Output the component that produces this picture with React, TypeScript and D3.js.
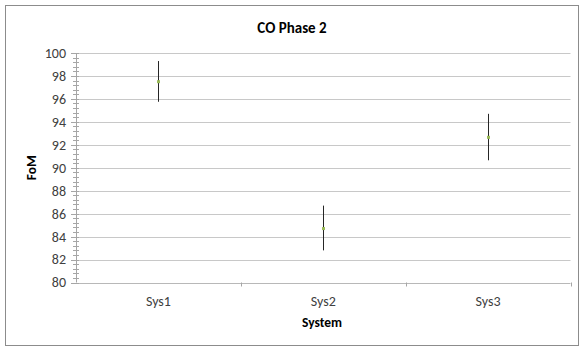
import React from 'react'
import * as d3 from 'd3'

const systems = ['Sys1', 'Sys2', 'Sys3']
const fom = [97.5, 84.7, 92.65]
const errLow = [95.75, 82.8, 90.65]
const errHigh = [99.3, 86.7, 94.7]
const yTicks = [80, 82, 84, 86, 88, 90, 92, 94, 96, 98, 100]

const W = 579
const H = 349
const margin = { top: 53, right: 8, bottom: 66, left: 76 }
const font = "Carlito, 'Open Sans', 'Noto Sans', sans-serif"

export default function App() {
  const x = d3
    .scaleBand()
    .domain(systems)
    .range([margin.left, 570.5])
  const y = d3
    .scaleLinear()
    .domain([80, 100])
    .range([282.5, margin.top])

  const minor = d3.range(80, 100.001, 0.4)

  return (
    <svg
      width={W}
      height={H}
      style={{ position: 'absolute', left: 0, top: 0, background: '#fff' }}
      fontFamily={font}
    >
      <rect x={5.5} y={5.5} width={573} height={340} fill="#fff" stroke="#8c8c8c" strokeWidth={1} />
      <text x={292} y={33} textAnchor="middle" fontSize={15} fontWeight="bold" fill="#000">
        CO Phase 2
      </text>

      {yTicks.map(t => (
        <line
          key={'g' + t}
          x1={margin.left}
          x2={570.5}
          y1={Math.round(y(t)) + 0.5}
          y2={Math.round(y(t)) + 0.5}
          stroke={t === 80 ? '#b8b8b8' : '#c8c8c8'}
          strokeWidth={1}
        />
      ))}

      {minor.map((t, i) => (
        <line
          key={'m' + i}
          x1={margin.left - 3}
          x2={margin.left + 3}
          y1={Math.round(y(t)) + 0.5}
          y2={Math.round(y(t)) + 0.5}
          stroke="#a6a6a6"
          strokeWidth={1}
        />
      ))}
      {yTicks.map(t => (
        <line
          key={'t' + t}
          x1={margin.left - 5}
          x2={margin.left}
          y1={Math.round(y(t)) + 0.5}
          y2={Math.round(y(t)) + 0.5}
          stroke="#a6a6a6"
        />
      ))}
      <line x1={margin.left + 0.5} x2={margin.left + 0.5} y1={y(100)} y2={y(80)} stroke="#a6a6a6" />

      {yTicks.map(t => (
        <text
          key={'l' + t}
          x={margin.left - 10}
          y={y(t)}
          dy="0.35em"
          textAnchor="end"
          fontSize={14}
          fill="#404040"
        >
          {t}
        </text>
      ))}

      {systems.map((s, i) => (
        <line
          key={'xt' + s}
          x1={Math.round((x(s) as number) + x.bandwidth()) + 0.5}
          x2={Math.round((x(s) as number) + x.bandwidth()) + 0.5}
          y1={y(80)}
          y2={y(80) + 4}
          stroke="#a6a6a6"
        />
      ))}
      {systems.map(s => (
        <text
          key={'xl' + s}
          x={(x(s) as number) + x.bandwidth() / 2}
          y={306}
          textAnchor="middle"
          fontSize={14}
          fill="#404040"
        >
          {s}
        </text>
      ))}

      <text x={322} y={327} textAnchor="middle" fontSize={13.5} fontWeight="bold" fill="#000">
        System
      </text>
      <text
        transform={`translate(36,${(y(100) + y(80)) / 2}) rotate(-90)`}
        textAnchor="middle"
        fontSize={13.5}
        fontWeight="bold"
        fill="#000"
      >
        FoM
      </text>

      {systems.map((s, i) => {
        const cx = Math.round((x(s) as number) + x.bandwidth() / 2) + 0.5
        return (
          <g key={'p' + s}>
            <line x1={cx} x2={cx} y1={y(errHigh[i])} y2={y(errLow[i])} stroke="#262626" strokeWidth={1} />
            <rect x={cx - 1.5} y={y(fom[i]) - 1.5} width={3} height={3} fill="#9bbb59" />
          </g>
        )
      })}
    </svg>
  )
}
